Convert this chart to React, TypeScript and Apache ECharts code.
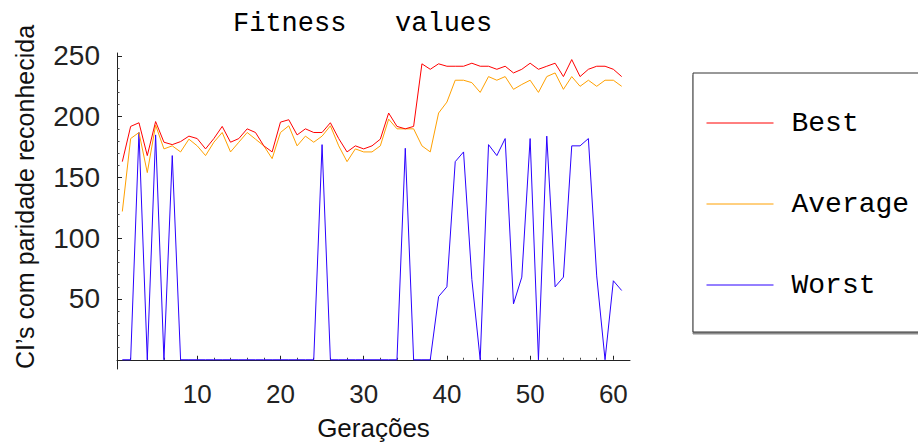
import React, { useEffect, useRef } from "react";
import * as echarts from "echarts";

const generations = [
  1, 2, 3, 4, 5, 6, 7, 8, 9, 10, 11, 12, 13, 14, 15, 16, 17, 18, 19, 20,
  21, 22, 23, 24, 25, 26, 27, 28, 29, 30, 31, 32, 33, 34, 35, 36, 37, 38, 39, 40,
  41, 42, 43, 44, 45, 46, 47, 48, 49, 50, 51, 52, 53, 54, 55, 56, 57, 58, 59, 60, 61,
];

const best = [
  163, 192, 195, 168, 196, 179, 177, 179.5, 184, 182, 173.5, 182, 192, 179, 182, 190, 187, 176, 171, 195.5,
  197.5, 185, 190, 187, 187, 195, 182, 171, 176, 173.5, 176, 181.5, 203, 192, 190, 192, 243.5, 239, 243.5, 241.5,
  241.5, 241.5, 244, 241.5, 241.5, 239, 241.5, 236, 239, 244, 239, 241.5, 244, 233, 247, 233, 239, 241.5, 241.5, 239, 233,
];

const average = [
  122, 182, 187, 154, 193, 173.5, 176, 171, 181.5, 176, 168, 179, 187, 171, 179, 187, 181.5, 176, 165.5, 187,
  192.5, 176, 184, 179, 184, 192.5, 176, 163, 173.5, 171, 171, 176, 198, 190, 190, 190, 176, 171, 203, 212,
  230, 230, 228, 220, 233, 230, 233, 222.5, 226.5, 230, 220, 233, 236, 222.5, 233, 225, 230, 225, 230, 230, 225,
];

const worst = [
  0, 0, 187, 0, 185, 0, 168, 0, 0, 0, 0, 0, 0, 0, 0, 0, 0, 0, 0, 0,
  0, 0, 0, 0, 177, 0, 0, 0, 0, 0, 0, 0, 0, 0, 174, 0, 0, 0, 52, 60,
  163, 171, 66, 0, 177, 168, 182, 46, 68, 182, 0, 184, 60, 68, 176, 176, 182, 69, 0, 65, 57,
];

const xTickLabels = [10, 20, 30, 40, 50, 60];
const yTickLabels = [50, 100, 150, 200, 250];
const seriesNames = ["Best", "Average", "Worst"];

const SANS = "Liberation Sans";
const MONO = "Liberation Mono";

export default function App() {
  const ref = useRef<HTMLDivElement>(null);
  useEffect(() => {
    const chart = echarts.init(ref.current!, null, { renderer: "svg" });
    const pairs = (vals: number[]) => generations.map((g, i) => [g, vals[i]]);
    chart.setOption({
      animation: false,
      backgroundColor: "#fff",
      title: {
        text: "Fitness   values",
        left: 233,
        top: 10,
        padding: 0,
        textStyle: { fontFamily: MONO, fontSize: 27, fontWeight: "normal", color: "#000" },
      },
      grid: { left: 117, top: 53, width: 513, height: 322, containLabel: false },
      legend: {
        data: seriesNames,
        orient: "vertical",
        left: 693,
        top: 73,
        padding: [36, 120, 33, 13],
        itemGap: 53,
        itemWidth: 67,
        itemHeight: 28,
        borderColor: "#333",
        borderWidth: 1,
        backgroundColor: "#fff",
        shadowColor: "rgba(0,0,0,0.45)",
        shadowOffsetY: 2,
        shadowOffsetX: 0,
        shadowBlur: 1,
        lineStyle: { width: 1 },
        itemStyle: { opacity: 0 },
        textStyle: { fontFamily: MONO, fontSize: 28, color: "#000", lineHeight: 28, padding: [0, 0, 0, 13] },
      },
      xAxis: {
        type: "value",
        min: 0.36,
        max: 62,
        name: "Gerações",
        nameLocation: "middle",
        nameGap: 46,
        nameTextStyle: { fontFamily: SANS, fontSize: 26, color: "#111" },
        axisLine: { onZero: true, lineStyle: { color: "#222", width: 1 } },
        axisTick: { inside: true, length: 4, customValues: xTickLabels, lineStyle: { color: "#222" } },
        minorTick: { show: true, splitNumber: 5, length: 2, lineStyle: { color: "#444" } },
        axisLabel: { customValues: xTickLabels, fontFamily: SANS, fontSize: 26, color: "#222", margin: 12 },
        splitLine: { show: false },
        minorSplitLine: { show: false },
      },
      yAxis: {
        type: "value",
        min: -7.6,
        max: 252.4,
        name: "CI’s com paridade reconhecida",
        nameLocation: "middle",
        nameRotate: 90,
        nameGap: 80,
        nameTextStyle: { fontFamily: SANS, fontSize: 25, color: "#111", padding: [0, 0, 0, 28] },
        axisLine: { show: true, onZero: false, lineStyle: { color: "#222", width: 1 } },
        axisTick: { show: true, inside: true, length: 5, customValues: yTickLabels, lineStyle: { color: "#222" } },
        minorTick: { show: true, splitNumber: 5, length: 2.5, lineStyle: { color: "#444" } },
        axisLabel: { customValues: yTickLabels, fontFamily: SANS, fontSize: 28, color: "#222", margin: 17 },
        splitLine: { show: false },
        minorSplitLine: { show: false },
      },
      series: [
        {
          name: "Worst",
          type: "line",
          data: pairs(worst),
          symbol: "none",
          lineStyle: { color: "#2a00ff", width: 1 },
          itemStyle: { color: "#2a00ff" },
        },
        {
          name: "Average",
          type: "line",
          data: pairs(average),
          symbol: "none",
          lineStyle: { color: "#ffa000", width: 1 },
          itemStyle: { color: "#ffa000" },
        },
        {
          name: "Best",
          type: "line",
          data: pairs(best),
          symbol: "none",
          lineStyle: { color: "#ff0000", width: 1 },
          itemStyle: { color: "#ff0000" },
        },
      ],
    });
    return () => chart.dispose();
  }, []);
  return (
    <div
      ref={ref}
      style={{ position: "fixed", left: 0, top: 0, width: 918, height: 446 }}
    />
  );
}
